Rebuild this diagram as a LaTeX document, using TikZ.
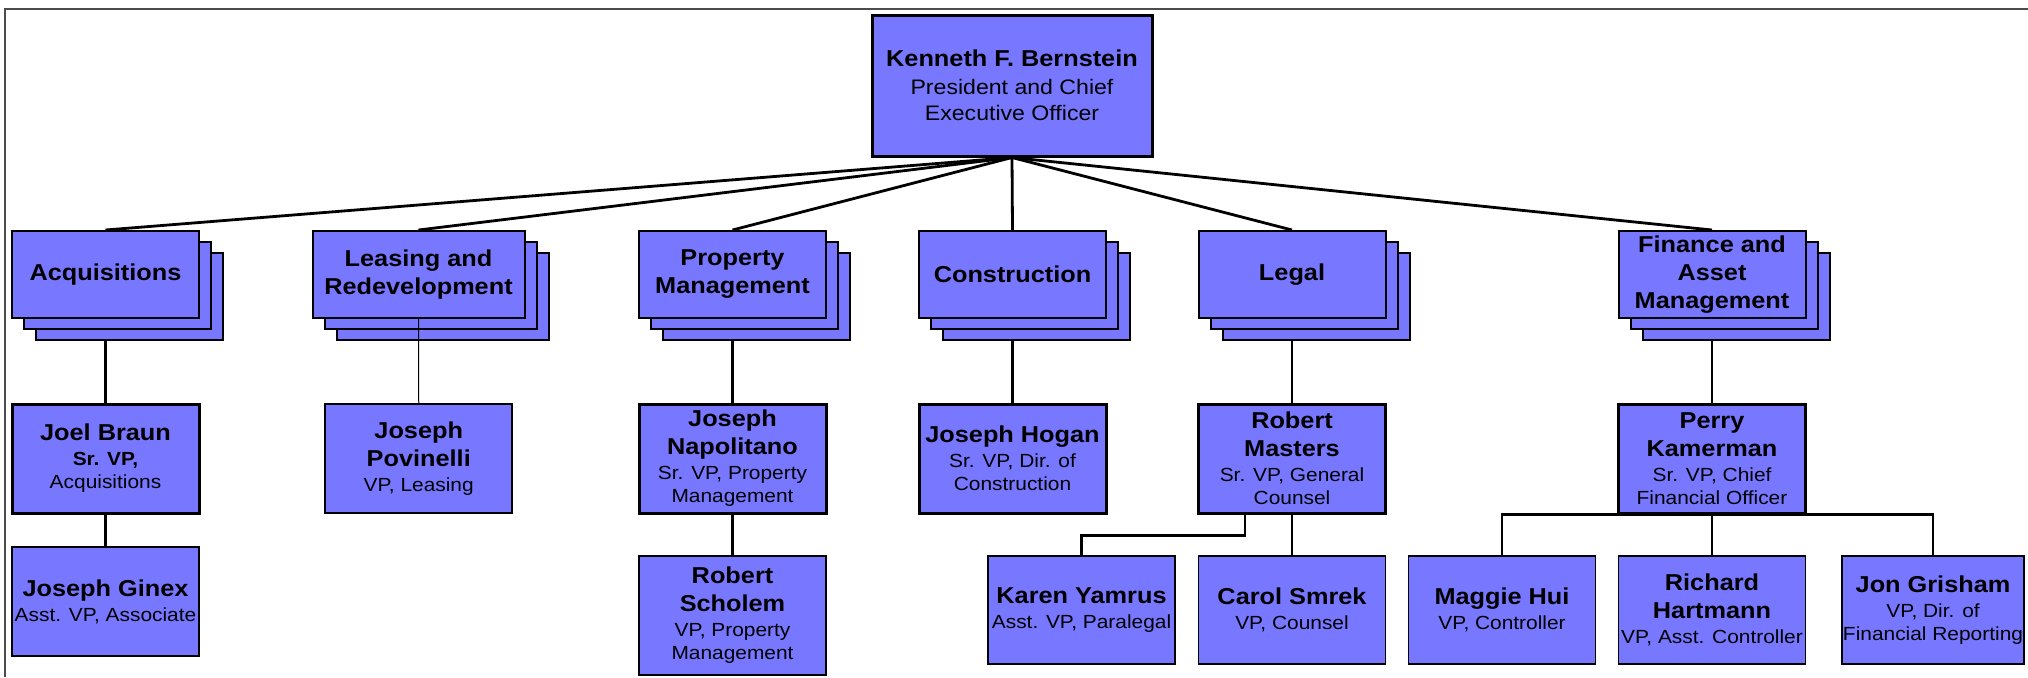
\documentclass[tikz,border=0pt]{standalone}
\usepackage{fontspec}
\setmainfont{Liberation Sans}[FakeStretch=1.1]
\usetikzlibrary{shadows}

\definecolor{boxblue}{RGB}{119,119,255}
\newcommand{\nm}[1]{{\fontsize{11.5}{14}\selectfont\bfseries #1}}

\tikzset{
  box/.style={draw,fill=boxblue,align=center,inner xsep=0.5pt,inner ysep=1pt,
    minimum width=93.5pt,minimum height=54.5pt,line width=0.8pt,
    font=\fontsize{9.5}{11.5}\selectfont},
  headbox/.style={box,line width=1.5pt},
  dept/.style={box,minimum height=43.5pt,line width=1pt,
    font=\fontsize{11.5}{14}\selectfont\bfseries,
    double copy shadow={shadow xshift=6pt,shadow yshift=-5.4pt}},
  toplink/.style={line width=1.4pt},
  link/.style={line width=1.1pt},
  thinlink/.style={line width=0.5pt},
  frameline/.style={line width=1pt,draw=black!70}
}

\begin{document}
\begin{tikzpicture}[x=0.5pt,y=-0.5pt]
\useasboundingbox (0,0) rectangle (2028,677);
\draw[frameline] (2028,9) -- (5,9) -- (5,677);

% president
\draw (1012,85.5) node[headbox,minimum width=140pt,minimum height=70.5pt,
  font=\fontsize{10.5}{13}\selectfont](ceo) {\nm{Kenneth F. Bernstein}\\[1pt]President and Chief\\Executive Officer};

% departments
\draw (105.5,274.5) node[dept](acq) {Acquisitions};
\draw (418.5,274.5) node[dept,minimum width=106pt](leas) {Leasing and\\Redevelopment};
\draw (732.5,274.5) node[dept](prop) {Property\\Management};
\draw (1012.5,274.5) node[dept](cons) {Construction};
\draw (1292,274.5) node[dept](legal) {Legal};
\draw (1712,274.5) node[dept](fin) {Finance and\\Asset\\Management};

% heads
\draw (105.5,458.5) node[headbox](braun) {\nm{Joel Braun}\\[1pt]\textbf{Sr. VP,}\\Acquisitions};
\draw (418.75,458.5) node[box](povinelli) {\nm{Joseph}\\[2.5pt]\nm{Povinelli}\\[1pt]VP, Leasing};
\draw (732.5,458.5) node[headbox](napolitano) {\nm{Joseph}\\[2.5pt]\nm{Napolitano}\\[1pt]Sr. VP, Property\\Management};
\draw (1012.5,458.5) node[headbox](hogan) {\nm{Joseph Hogan}\\[1pt]Sr. VP, Dir. of\\Construction};
\draw (1292,458.5) node[headbox](masters) {\nm{Robert}\\[2.5pt]\nm{Masters}\\[1pt]Sr. VP, General\\Counsel};
\draw (1712,458.5) node[headbox](kamerman) {\nm{Perry}\\[2.5pt]\nm{Kamerman}\\[1pt]Sr. VP, Chief\\Financial Officer};

% staff
\draw (105.5,601.5) node[box](ginex) {\nm{Joseph Ginex}\\[1pt]Asst. VP, Associate};
\draw (732.5,615.5) node[box,minimum height=59.5pt](scholem) {\nm{Robert}\\[2.5pt]\nm{Scholem}\\[1pt]VP, Property\\Management};
\draw (1081.5,610) node[box,minimum height=54pt](yamrus) {\nm{Karen Yamrus}\\[1pt]Asst. VP, Paralegal};
\draw (1292,610) node[box,minimum height=54pt](smrek) {\nm{Carol Smrek}\\[1pt]VP, Counsel};
\draw (1502,610) node[box,minimum height=54pt](hui) {\nm{Maggie Hui}\\[1pt]VP, Controller};
\draw (1712,610) node[box,minimum height=54pt](hartmann) {\nm{Richard}\\[2.5pt]\nm{Hartmann}\\[1pt]VP, Asst. Controller};
\draw (1933,610) node[box,minimum width=90pt,minimum height=54pt](grisham) {\nm{Jon Grisham}\\[1pt]VP, Dir. of\\Financial Reporting};

% lines
\draw[toplink] (ceo.south) -- (acq.north);
\draw[toplink] (ceo.south) -- (leas.north);
\draw[toplink] (ceo.south) -- (prop.north);
\draw[toplink] (ceo.south) -- (cons.north);
\draw[toplink] (ceo.south) -- (legal.north);
\draw[toplink] (ceo.south) -- (fin.north);
\draw[link] ([yshift=-10.8pt]acq.south) -- (braun.north);
\draw[thinlink] (leas.south) -- (povinelli.north);
\draw[link] ([yshift=-10.8pt]prop.south) -- (napolitano.north);
\draw[link] ([yshift=-10.8pt]cons.south) -- (hogan.north);
\draw[link] ([yshift=-10.8pt]legal.south) -- (masters.north);
\draw[link] ([yshift=-10.8pt]fin.south) -- (kamerman.north);
\draw[link] (braun.south) -- (ginex.north);
\draw[link] (napolitano.south) -- (scholem.north);
\draw[link] ([xshift=-23.5pt]masters.south) -- ++(0,21) -| (yamrus.north);
\draw[link] (masters.south) -- (smrek.north);
\draw[link] (hui.north) |- (kamerman.south) -| (grisham.north);
\draw[link] (kamerman.south) -- (hartmann.north);
\end{tikzpicture}
\end{document}
